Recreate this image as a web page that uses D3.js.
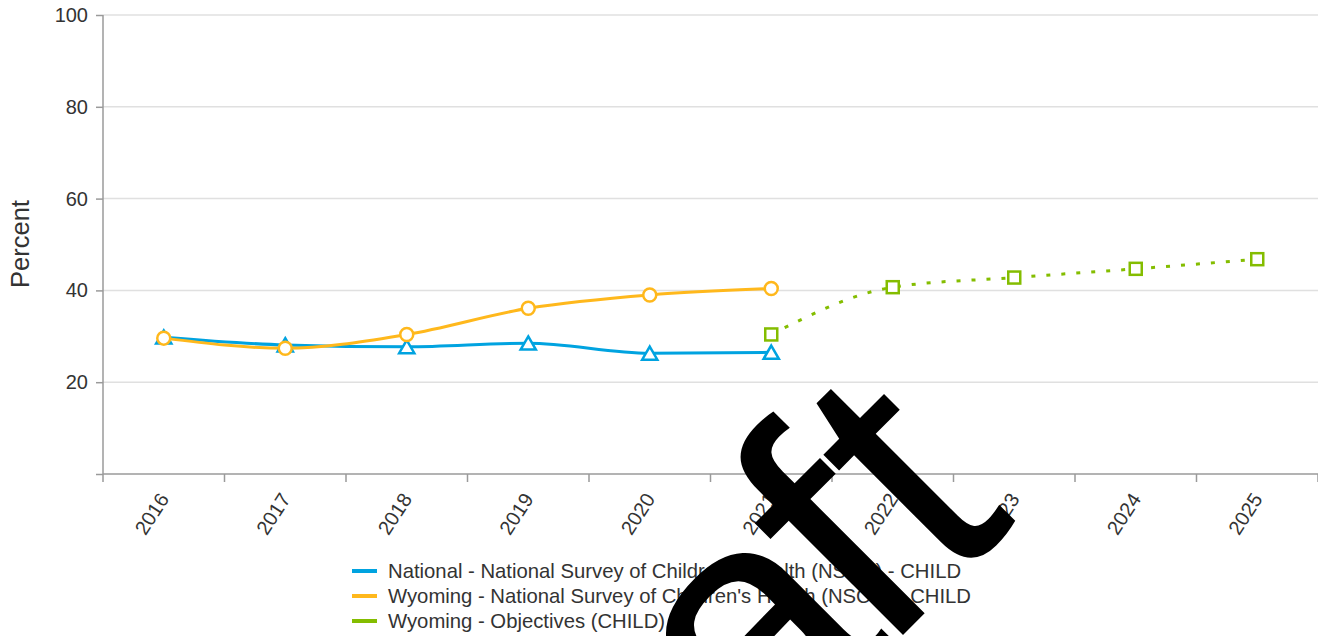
<!DOCTYPE html>
<html>
<head>
<meta charset="utf-8">
<script src="https://cdn.jsdelivr.net/npm/d3@7"></script>
<style>
  body { margin: 0; background: #fff; }
  svg { font-family: "Liberation Sans", Arial, sans-serif; }
  .grid line { stroke: #e0e0e0; stroke-width: 1.5; }
  .axis path, .axis line { stroke: #9a9a9a; stroke-width: 1.5; }
  .axis text { fill: #333; font-size: 20px; }
</style>
</head>
<body>
<svg width="1318" height="636"></svg>
<script>
// chart data
const years = ["2016", "2017", "2018", "2019", "2020", "2021", "2022", "2023", "2024", "2025"];
const yTicks = [20, 40, 60, 80, 100];

const nationalYears = ["2016", "2017", "2018", "2019", "2020", "2021"];
const nationalValues = [29.8, 28.1, 27.7, 28.5, 26.3, 26.5];

const wyomingYears = ["2016", "2017", "2018", "2019", "2020", "2021"];
const wyomingValues = [29.6, 27.4, 30.4, 36.1, 39.0, 40.4];

const objectiveYears = ["2021", "2022", "2023", "2024", "2025"];
const objectiveValues = [30.4, 40.7, 42.8, 44.7, 46.8];

const legendLabels = [
  "National - National Survey of Children's Health (NSCH) - CHILD",
  "Wyoming - National Survey of Children's Health (NSCH) - CHILD",
  "Wyoming - Objectives (CHILD)"
];
const colors = ["#00a3e0", "#ffb81c", "#84bd00"];

function init() {
  var svg = d3.select("svg");
  var left = 103, right = 1318, top = 15, bottom = 474;

  var x = d3.scaleBand().domain(years).range([left, right]);
  var y = d3.scaleLinear().domain([0, 100]).range([bottom, top]);

  // gridlines
  svg.append("g").attr("class", "grid")
    .selectAll("line").data(yTicks).enter().append("line")
    .attr("x1", left).attr("x2", right)
    .attr("y1", d => y(d)).attr("y2", d => y(d));

  // y axis
  var yAxis = svg.append("g").attr("class", "axis")
    .attr("transform", "translate(" + left + ",0)")
    .call(d3.axisLeft(y).tickValues([0].concat(yTicks)).tickSize(7).tickPadding(8)
      .tickFormat(d => d === 0 ? "" : d));
  yAxis.select(".domain").attr("d", "M0," + top + "V" + bottom);

  // x axis
  var xAxis = svg.append("g").attr("class", "axis")
    .attr("transform", "translate(0," + bottom + ")")
    .call(d3.axisBottom(x).tickSize(0).tickFormat(""));
  xAxis.select(".domain").attr("d", "M" + left + ",0H" + right);
  xAxis.selectAll(".tickmark").data(years.concat(["end"])).enter().append("line")
    .attr("class", "tickmark")
    .attr("x1", (d, i) => left + i * x.step()).attr("x2", (d, i) => left + i * x.step())
    .attr("y1", 0).attr("y2", 8);
  xAxis.selectAll(".ylabel").data(years).enter().append("text")
    .attr("class", "ylabel")
    .attr("text-anchor", "end")
    .attr("transform", d => "translate(" + (x(d) + x.bandwidth() / 2 + 6) + ",25) rotate(-57)")
    .text(d => d);

  // y title
  svg.append("text")
    .attr("transform", "translate(29,244) rotate(-90)")
    .attr("text-anchor", "middle")
    .attr("fill", "#333")
    .style("font-size", "25.5px")
    .text("Percent");

  var cx = d => x(d) + x.bandwidth() / 2;
  var line = d3.line().curve(d3.curveMonotoneX).x(d => cx(d[0])).y(d => y(d[1]));

  var national = d3.zip(nationalYears, nationalValues);
  var wyoming = d3.zip(wyomingYears, wyomingValues);
  var objective = d3.zip(objectiveYears, objectiveValues);

  svg.append("path").datum(national)
    .attr("fill", "none").attr("stroke", colors[0]).attr("stroke-width", 3)
    .attr("d", line);
  svg.append("path").datum(wyoming)
    .attr("fill", "none").attr("stroke", colors[1]).attr("stroke-width", 3)
    .attr("d", line);
  svg.append("path").datum(objective)
    .attr("fill", "none").attr("stroke", colors[2]).attr("stroke-width", 3)
    .attr("stroke-dasharray", "4,11")
    .attr("d", line);

  // markers
  var tri = d3.symbol().type(d3.symbolTriangle).size(100);
  svg.selectAll(".tri").data(national).enter().append("path")
    .attr("class", "tri")
    .attr("transform", d => "translate(" + cx(d[0]) + "," + (y(d[1]) + 2) + ")")
    .attr("d", tri)
    .attr("fill", "#fff").attr("stroke", colors[0]).attr("stroke-width", 2.5);
  svg.selectAll(".dot").data(wyoming).enter().append("circle")
    .attr("class", "dot")
    .attr("cx", d => cx(d[0])).attr("cy", d => y(d[1])).attr("r", 6.5)
    .attr("fill", "#fff").attr("stroke", colors[1]).attr("stroke-width", 2.5);
  svg.selectAll(".sq").data(objective).enter().append("rect")
    .attr("class", "sq")
    .attr("x", d => cx(d[0]) - 6).attr("y", d => y(d[1]) - 6)
    .attr("width", 12).attr("height", 12)
    .attr("fill", "#fff").attr("stroke", colors[2]).attr("stroke-width", 2.5);

  // legend
  var legend = svg.append("g").attr("transform", "translate(352,571)");
  var items = legend.selectAll(".legend-item").data(legendLabels).enter().append("g")
    .attr("class", "legend-item")
    .attr("transform", (d, i) => "translate(0," + i * 25 + ")");
  items.append("rect")
    .attr("x", 0).attr("y", -2).attr("width", 25).attr("height", 4)
    .attr("fill", (d, i) => colors[i]);
  items.append("text")
    .attr("x", 36).attr("dy", "0.35em")
    .attr("fill", "#333")
    .style("font-size", "20.3px")
    .text(d => d);

  // "Draft" watermark over everything
  var wm = svg.append("text")
    .attr("transform", "translate(1018,520) rotate(-45)")
    .attr("text-anchor", "end")
    .attr("fill", "#000")
    .style("font-size", "348px");
  wm.append("tspan").text("Dra");
  wm.append("tspan").attr("dx", -20).text("ft");
}
init();
</script>
</body>
</html>
